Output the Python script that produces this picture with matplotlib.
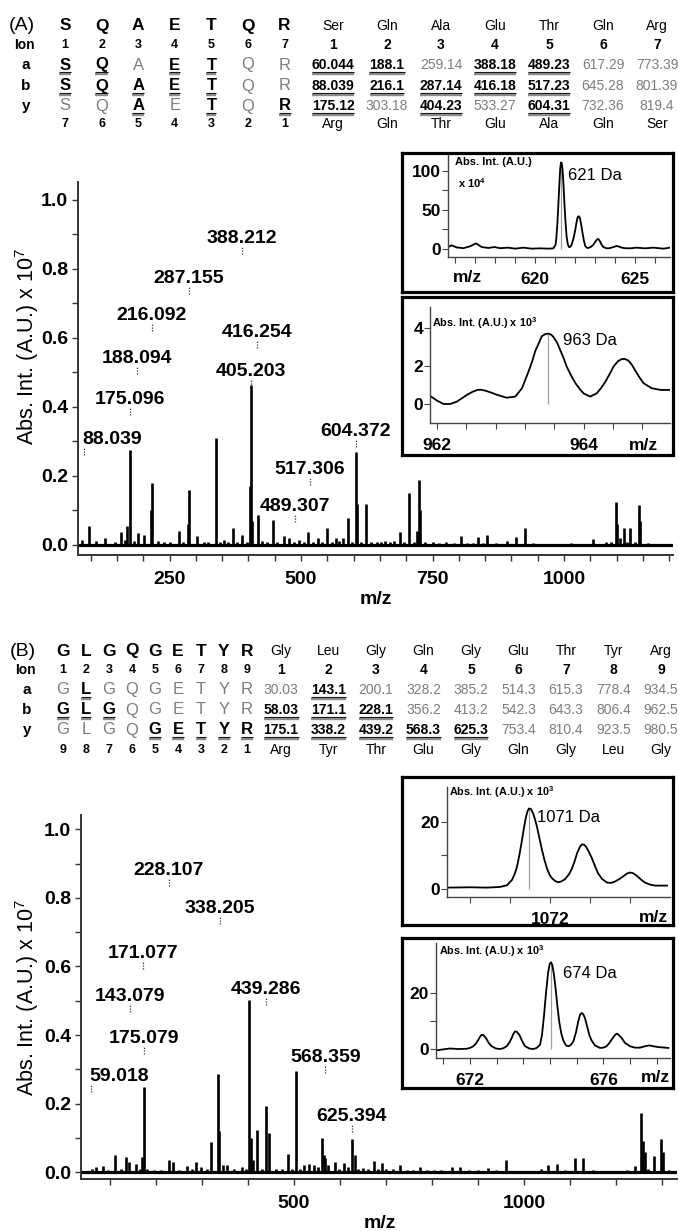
import matplotlib
matplotlib.use('Agg')
import matplotlib.pyplot as plt
from matplotlib.lines import Line2D
import numpy as np

plt.rcParams['font.family'] = ['Liberation Sans', 'DejaVu Sans']
plt.rcParams['mathtext.fontset'] = 'custom'
plt.rcParams['mathtext.rm'] = 'Liberation Sans'
plt.rcParams['mathtext.bf'] = 'Liberation Sans:bold'

# ---------------- data: fragment tables ----------------
seq_A = ['S', 'Q', 'A', 'E', 'T', 'Q', 'R']
res_A = ['Ser', 'Gln', 'Ala', 'Glu', 'Thr', 'Gln', 'Arg']
a_A = ['60.044', '188.1', '259.14', '388.18', '489.23', '617.29', '773.39']
b_A = ['88.039', '216.1', '287.14', '416.18', '517.23', '645.28', '801.39']
y_A = ['175.12', '303.18', '404.23', '533.27', '604.31', '732.36', '819.4']
a_A_found = [1, 1, 0, 1, 1, 0, 0]
b_A_found = [1, 1, 1, 1, 1, 0, 0]
y_A_found = [1, 0, 1, 0, 1, 0, 0]

seq_B = ['G', 'L', 'G', 'Q', 'G', 'E', 'T', 'Y', 'R']
res_B = ['Gly', 'Leu', 'Gly', 'Gln', 'Gly', 'Glu', 'Thr', 'Tyr', 'Arg']
a_B = ['30.03', '143.1', '200.1', '328.2', '385.2', '514.3', '615.3', '778.4', '934.5']
b_B = ['58.03', '171.1', '228.1', '356.2', '413.2', '542.3', '643.3', '806.4', '962.5']
y_B = ['175.1', '338.2', '439.2', '568.3', '625.3', '753.4', '810.4', '923.5', '980.5']
a_B_found = [0, 1, 0, 0, 0, 0, 0, 0, 0]
b_B_found = [1, 1, 1, 0, 0, 0, 0, 0, 0]
y_B_found = [1, 1, 1, 1, 1, 0, 0, 0, 0]

# ---------------- data: spectrum A ----------------
A_mz = [71, 84, 96, 110, 128, 146, 158, 166, 169, 175.1, 182, 190, 201, 214, 216.1, 228, 240, 251,
        268, 276, 285, 287.2, 302, 315, 323, 338.1, 345, 353, 362, 370.5, 378, 387, 398, 403, 405.2,
        407, 417.5, 425, 435, 446, 455, 467, 477, 487, 496, 505, 514, 523, 532, 540, 549, 558, 565.6,
        572, 580, 588.6, 596, 604.4, 606, 614, 623, 632, 644, 652, 660, 670, 677, 689, 696, 705.2,
        714, 720, 724.4, 726, 735, 751, 763, 775, 790, 804, 816, 826, 837, 846, 854, 870, 891, 908,
        926, 940, 960, 985, 1014, 1035, 1055, 1080, 1090, 1098, 1101, 1106, 1113, 1120, 1125, 1134,
        1142, 1145, 1160, 1180]
A_int = [0.012, 0.015, 0.055, 0.012, 0.02, 0.01, 0.038, 0.015, 0.055, 0.275, 0.012, 0.035, 0.03,
         0.10, 0.18, 0.012, 0.008, 0.01, 0.04, 0.008, 0.06, 0.16, 0.025, 0.01, 0.01, 0.31, 0.008,
         0.015, 0.01, 0.048, 0.008, 0.03, 0.01, 0.17, 0.464, 0.07, 0.087, 0.012, 0.008, 0.072,
         0.008, 0.025, 0.02, 0.01, 0.015, 0.01, 0.038, 0.01, 0.02, 0.008, 0.048, 0.01, 0.02, 0.012,
         0.02, 0.077, 0.01, 0.27, 0.12, 0.01, 0.119, 0.01, 0.01, 0.008, 0.012, 0.008, 0.012, 0.038,
         0.008, 0.15, 0.01, 0.04, 0.188, 0.10, 0.008, 0.008, 0.006, 0.01, 0.005, 0.026, 0.005, 0.005,
         0.024, 0.006, 0.03, 0.005, 0.012, 0.024, 0.05, 0.005, 0.004, 0.004, 0.005, 0.004, 0.016,
         0.01, 0.008, 0.125, 0.06, 0.02, 0.05, 0.01, 0.05, 0.008, 0.115, 0.07, 0.005, 0.004]
A_lab_mz = [88.039, 175.096, 188.094, 216.092, 287.155, 388.212, 416.254, 405.203, 604.372,
            517.306, 489.307]
A_lab_top = [0.281, 0.397, 0.516, 0.641, 0.748, 0.864, 0.591, 0.478, 0.304, 0.194, 0.087]
A_lab_txt = ['88.039', '175.096', '188.094', '216.092', '287.155', '388.212', '416.254', '405.203',
             '604.372', '517.306', '489.307']

# ---------------- data: spectrum B ----------------
B_mz = [60, 69.6, 84, 95, 111, 125, 135, 141, 156.5, 165, 169, 174.5, 180, 195, 210, 229, 236, 250,
        267, 278, 287, 298, 310, 319.6, 335, 337, 345, 353.6, 370, 387, 395, 402, 406, 411, 420, 430,
        439, 446.4, 460, 475, 487, 495, 503.6, 513, 522, 533, 543, 552, 561.6, 565, 567, 575, 589,
        598, 608, 617, 625.4, 632.6, 640, 650, 660, 674, 682, 690.6, 700, 715, 730, 745, 760, 775,
        790, 805, 820, 843, 861, 880, 900, 922, 940, 962, 985, 1010, 1037, 1052, 1072, 1090, 1111,
        1128, 1150, 1175, 1200, 1225, 1241, 1254, 1258, 1263, 1270, 1283, 1299, 1302, 1315]
B_int = [0.008, 0.015, 0.017, 0.006, 0.049, 0.008, 0.044, 0.03, 0.025, 0.01, 0.044, 0.247, 0.01,
         0.006, 0.006, 0.034, 0.03, 0.006, 0.017, 0.008, 0.03, 0.015, 0.008, 0.088, 0.287, 0.12,
         0.02, 0.022, 0.008, 0.015, 0.01, 0.501, 0.1, 0.034, 0.122, 0.01, 0.192, 0.114, 0.008, 0.01,
         0.052, 0.01, 0.294, 0.01, 0.02, 0.024, 0.02, 0.015, 0.1, 0.05, 0.04, 0.02, 0.03, 0.01,
         0.026, 0.015, 0.096, 0.05, 0.01, 0.012, 0.008, 0.033, 0.01, 0.028, 0.008, 0.01, 0.02, 0.006,
         0.005, 0.015, 0.005, 0.006, 0.006, 0.015, 0.015, 0.005, 0.005, 0.012, 0.005, 0.034, 0.004,
         0.004, 0.01, 0.02, 0.025, 0.006, 0.04, 0.042, 0.005, 0.004, 0.004, 0.005, 0.018, 0.173,
         0.09, 0.06, 0.01, 0.047, 0.097, 0.06, 0.005]
B_lab_mz = [228.107, 338.205, 171.077, 143.079, 175.079, 59.018, 439.286, 568.359, 625.394]
B_lab_top = [0.855, 0.745, 0.613, 0.488, 0.365, 0.254, 0.508, 0.31, 0.137]
B_lab_txt = ['228.107', '338.205', '171.077', '143.079', '175.079', '59.018', '439.286',
             '568.359', '625.394']

# ---------------- data: insets ----------------
i1_mz = [615.67, 615.83, 616.08, 616.42, 616.75, 617.05, 617.33, 617.67, 617.97, 618.25, 618.67,
         619.0, 619.42, 619.83, 620.25, 620.67, 620.92, 621.03, 621.07, 621.12, 621.17, 621.22,
         621.26, 621.3, 621.34, 621.38, 621.43, 621.48, 621.53, 621.58, 621.64, 621.7, 621.77,
         621.83, 621.92, 622.0, 622.07, 622.13, 622.19, 622.25, 622.31, 622.38, 622.45, 622.52,
         622.6, 622.67, 622.8, 622.92, 623.02, 623.12, 623.18, 623.25, 623.33, 623.42, 623.55,
         623.67, 623.8, 623.92, 624.08, 624.2, 624.33, 624.5, 624.75, 625.08, 625.5, 625.92,
         626.42, 626.75]
i1_int = [2.5, 4.7, 2.0, 1.0, 3.4, 7.2, 2.5, 1.3, 2.5, 1.0, 1.7, 0.4, 1.7, 0.4, 0.8, 0.4, 0.8, 5.5,
          15, 33, 58, 84, 103, 111, 110, 101, 80, 54, 33, 16, 6, 2.5, 2.8, 5.5, 13, 22.5, 33, 40.7,
          42, 39.4, 31, 20, 10, 3.4, 1.5, 1.3, 2.8, 5.5, 9.5, 12.7, 12.5, 9.7, 5.5, 2.5, 1.0, 0.8,
          1.5, 2.5, 3.8, 3.0, 1.7, 1.0, 0.8, 1.7, 0.8, 1.7, 0.4, 1.7]
i1_peak = (621.3, 111)

i2_mz = [961.92, 962.0, 962.09, 962.18, 962.27, 962.34, 962.41, 962.48, 962.55, 962.6, 962.66,
         962.74, 962.82, 962.95, 963.07, 963.16, 963.25, 963.3, 963.34, 963.39, 963.43, 963.48,
         963.52, 963.56, 963.59, 963.64, 963.68, 963.73, 963.77, 963.83, 963.89, 963.95, 964.0,
         964.09, 964.18, 964.24, 964.3, 964.36, 964.41, 964.47, 964.52, 964.56, 964.61, 964.66,
         964.7, 964.76, 964.82, 964.93, 965.05, 965.18]
i2_int = [0.39, 0.18, 0.0, 0.0, 0.12, 0.3, 0.48, 0.63, 0.74, 0.75, 0.7, 0.6, 0.48, 0.33, 0.39,
          0.83, 1.71, 2.25, 2.77, 3.2, 3.56, 3.68, 3.7, 3.64, 3.52, 3.22, 2.85, 2.4, 1.97, 1.5,
          1.09, 0.78, 0.56, 0.39, 0.56, 0.84, 1.18, 1.6, 1.97, 2.25, 2.36, 2.37, 2.29, 2.06, 1.8,
          1.42, 1.09, 0.83, 0.74, 0.74]
i2_peak = (963.52, 3.7)

i3_mz = [1070.98, 1071.2, 1071.37, 1071.5, 1071.57, 1071.62, 1071.645, 1071.67, 1071.695, 1071.72,
         1071.74, 1071.76, 1071.775, 1071.79, 1071.81, 1071.83, 1071.85, 1071.87, 1071.895,
         1071.92, 1071.945, 1071.97, 1072.0, 1072.02, 1072.05, 1072.08, 1072.11, 1072.15, 1072.19,
         1072.22, 1072.25, 1072.27, 1072.3, 1072.32, 1072.34, 1072.36, 1072.39, 1072.42, 1072.45,
         1072.48, 1072.52, 1072.57, 1072.61, 1072.65, 1072.69, 1072.73, 1072.77, 1072.8, 1072.83,
         1072.87, 1072.91, 1072.95, 1073.0, 1073.05, 1073.17]
i3_int = [0.4, 0.5, 0.4, 0.6, 1.1, 2.7, 4.3, 6.6, 10.3, 14.6, 18.3, 21.5, 23.2, 24.0, 23.8, 22.6,
          20.8, 18.5, 15.0, 11.6, 8.6, 6.1, 4.0, 3.2, 2.4, 2.0, 2.2, 2.9, 4.4, 6.1, 8.6, 10.6, 12.6,
          13.3, 13.2, 12.6, 11.0, 9.1, 6.8, 4.7, 3.0, 1.9, 1.8, 2.2, 2.9, 3.7, 4.6, 4.9, 4.7, 3.9,
          2.8, 1.9, 1.3, 1.0, 1.0]
i3_peak = (1071.79, 24.0)

i4_mz = [670.97, 671.15, 671.4, 671.65, 671.9, 672.0, 672.1, 672.18, 672.25, 672.3, 672.35, 672.4,
         672.48, 672.56, 672.65, 672.78, 672.9, 673.0, 673.1, 673.18, 673.25, 673.3, 673.35, 673.4,
         673.48, 673.56, 673.65, 673.78, 673.9, 674.0, 674.1, 674.16, 674.22, 674.28, 674.34,
         674.39, 674.43, 674.47, 674.52, 674.57, 674.62, 674.68, 674.74, 674.8, 674.88, 674.95,
         675.02, 675.1, 675.18, 675.25, 675.3, 675.35, 675.4, 675.45, 675.52, 675.58, 675.65,
         675.75, 675.9, 676.0, 676.1, 676.2, 676.28, 676.35, 676.4, 676.45, 676.55, 676.65, 676.8,
         676.95, 677.1, 677.25, 677.38, 677.5, 677.65, 677.95]
i4_int = [-0.5, -0.2, 0.2, 0.0, 0.1, 0.4, 1.0, 2.0, 3.3, 4.4, 5.1, 5.0, 3.9, 2.2, 1.0, 0.2, 0.0,
          0.3, 1.0, 2.3, 3.9, 5.4, 6.3, 6.2, 5.1, 3.0, 1.0, 0.2, 0.0, 0.4, 1.5, 5.0, 12.0, 20.0,
          27.0, 30.4, 31.0, 30.0, 26.5, 21.5, 15.5, 9.5, 5.5, 3.0, 1.3, 1.0, 1.4, 2.7, 6.0, 10.0,
          12.2, 12.9, 12.4, 11.0, 7.8, 5.0, 3.0, 1.3, 0.4, 0.5, 1.0, 2.5, 3.9, 5.0, 5.5, 5.2, 3.9,
          2.2, 1.0, 0.5, 0.5, 1.0, 1.3, 1.0, 0.7, 0.4]
i4_peak = (674.43, 31.0)

# ---------------- figure helpers ----------------
W, H = 679, 1231
fig = plt.figure(figsize=(W / 100, H / 100), dpi=100)
GRAY = '#7d7d7d'


def add_ax(l, t, r, b, **kw):
    return fig.add_axes([l / W, 1 - b / H, (r - l) / W, (b - t) / H], **kw)


def ftext(px, py, s, **kw):
    return fig.text(px / W, 1 - py / H, s, **kw)


underlines = []


def table(tag, rows, lab_x, lx, vx, seq, res, av, bv, yv, af, bf, yf):
    hy, iy, ay, by, yy, bty = rows
    n = len(seq)
    ftext(lab_x - 2, hy, tag, fontsize=14, ha='center', va='center')
    ftext(lab_x, iy, 'Ion', fontsize=10, fontweight='bold', ha='center', va='center')
    for lbl, ry in (('a', ay), ('b', by), ('y', yy)):
        ftext(lab_x + 2, ry, lbl, fontsize=11, fontweight='bold', ha='center', va='center')
    for j in range(n):
        ftext(lx[j], hy, seq[j], fontsize=12.5, fontweight='bold', ha='center', va='center')
        ftext(lx[j], iy, str(j + 1), fontsize=9, fontweight='bold', ha='center', va='center')
        ftext(lx[j], bty, str(n - j), fontsize=9, fontweight='bold', ha='center', va='center')
        ftext(vx[j], hy, res[j], fontsize=10, ha='center', va='center')
        ftext(vx[j], iy, str(j + 1), fontsize=10, fontweight='bold', ha='center', va='center')
        ftext(vx[j], bty, res[n - 1 - j], fontsize=10, ha='center', va='center')
    for ry, vals, found, rev in ((ay, av, af, False), (by, bv, bf, False), (yy, yv, yf, True)):
        for j in range(n):
            lf = found[n - 1 - j] if rev else found[j]
            t = ftext(lx[j], ry, seq[j], fontsize=12, ha='center', va='center',
                      fontweight='bold' if lf else 'normal', color='k' if lf else GRAY)
            if lf:
                underlines.append((t, ry))
            t = ftext(vx[j], ry, vals[j], fontsize=10, ha='center', va='center',
                      fontweight='bold' if found[j] else 'normal', color='k' if found[j] else GRAY)
            if found[j]:
                underlines.append((t, ry))


table('(A)', (26, 45, 65, 86, 106, 124), 24,
      [65 + 36.6 * j for j in range(7)], [333 + 54 * j for j in range(7)],
      seq_A, res_A, a_A, b_A, y_A, a_A_found, b_A_found, y_A_found)
table('(B)', (651, 670, 690, 710, 730, 750), 25,
      [63 + 23 * j for j in range(9)], [281 + 47.5 * j for j in range(9)],
      seq_B, res_B, a_B, b_B, y_B, a_B_found, b_B_found, y_B_found)


# ---------------- main spectra ----------------
def main_axes(ax, mz, inten, xlim, ylim, xt, xlabs, lab_mz, lab_top, lab_txt, left_labels):
    ax.set_facecolor('none')
    ax.vlines(mz, 0, inten, color='k', lw=1.9)
    ax.axhline(0, color='k', lw=2.3)
    ax.set_xlim(*xlim)
    ax.set_ylim(*ylim)
    for s in ('top', 'right'):
        ax.spines[s].set_visible(False)
    for s in ('left', 'bottom'):
        ax.spines[s].set_linewidth(1.4)
        ax.spines[s].set_color('#333333')
    ax.set_xticks(xt)
    ax.set_xticklabels([str(int(v)) if int(v) in xlabs else '' for v in xt],
                       fontsize=14, fontweight='bold')
    yt = [0.0, 0.2, 0.4, 0.6, 0.8, 1.0]
    ax.set_yticks(yt)
    ax.set_yticklabels(['%.1f' % v for v in yt], fontsize=14, fontweight='bold')
    ax.set_yticks([0.1, 0.3, 0.5, 0.7, 0.9], minor=True)
    ax.tick_params(axis='x', direction='out', length=4.5, width=1.0, pad=7, color='#333333')
    ax.tick_params(axis='y', which='both', direction='out', length=4, width=1.0, pad=3,
                   color='#333333')
    for m, top, txt in zip(lab_mz, lab_top, lab_txt):
        ax.vlines(m, top - 0.021, top, color='#333333', lw=0.9, linestyles=(0, (1, 1.2)))
        if txt in left_labels:
            ax.text(m - 3, top + 0.012, txt, ha='left', va='baseline', fontsize=14,
                    fontweight='bold')
        else:
            ax.text(m, top + 0.012, txt, ha='center', va='baseline', fontsize=14,
                    fontweight='bold')


axA = add_ax(78, 182, 673, 555)
main_axes(axA, A_mz, A_int, (76, 1207), (-0.029, 1.052), np.arange(100, 1201, 50),
          (250, 500, 750, 1000), A_lab_mz, A_lab_top, A_lab_txt, ('88.039',))
axB = add_ax(81, 815, 677, 1179)
main_axes(axB, B_mz, B_int, (37, 1333), (-0.02, 1.042), np.arange(100, 1301, 100),
          (500, 1000), B_lab_mz, B_lab_top, B_lab_txt, ('59.018',))

ftext(27, 346, 'Abs. Int. (A.U.) x 10$^7$', rotation=90, fontsize=15.5, ha='center', va='center')
ftext(27, 997, 'Abs. Int. (A.U.) x 10$^7$', rotation=90, fontsize=15.5, ha='center', va='center')
ftext(376, 599, 'm/z', fontsize=14, fontweight='bold', ha='center', va='center')
ftext(380, 1223, 'm/z', fontsize=14, fontweight='bold', ha='center', va='center')


# ---------------- insets ----------------
def box(l, t, r, b):
    bx = add_ax(l, t, r, b)
    bx.set_xticks([])
    bx.set_yticks([])
    for s in bx.spines.values():
        s.set_linewidth(2.3)
        s.set_color('k')
    return bx


def inset(rect, mz, inten, peak, xlim, ylim, xt, xlabs, yt, ymin):
    ax = add_ax(*rect)
    ax.set_facecolor('none')
    ax.vlines(peak[0], 0, peak[1], color='#a0a0a0', lw=0.9)
    ax.plot(mz, inten, color='k', lw=1.3, solid_joinstyle='round')
    ax.set_xlim(*xlim)
    ax.set_ylim(*ylim)
    for s in ('top', 'right'):
        ax.spines[s].set_visible(False)
    for s in ('left', 'bottom'):
        ax.spines[s].set_linewidth(1.0)
        ax.spines[s].set_color('#444444')
    ax.set_xticks(xt)
    ax.set_xticklabels([('%g' % v) if any(abs(v - q) < 1e-6 for q in xlabs) else '' for v in xt],
                       fontsize=12.5, fontweight='bold')
    ax.set_yticks(yt)
    ax.set_yticklabels(['%g' % v for v in yt], fontsize=12.5, fontweight='bold')
    ax.set_yticks(ymin, minor=True)
    ax.tick_params(axis='x', direction='out', length=4, width=0.8, pad=6.5, color='#444444')
    ax.tick_params(axis='y', which='both', direction='out', length=4, width=0.8, pad=1,
                   color='#444444')
    return ax


box(402, 153, 673, 292)
inset((448, 155, 670, 257), i1_mz, i1_int, i1_peak, (615.65, 626.75), (-10.3, 120.5),
      np.arange(616, 627, 1), (620, 625), [0, 50, 100], [25, 75])
ftext(455, 162, 'Abs. Int. (A.U.)', fontsize=8, fontweight='bold', va='center')
ftext(458, 183, 'x 10$^\\mathbf{4}$', fontsize=8, fontweight='bold', va='center')
ftext(568, 175, '621 Da', fontsize=12, va='center')
ftext(467, 278, 'm/z', fontsize=12.5, fontweight='bold', ha='center', va='center')

box(402, 297, 673, 455)
inset((430, 307, 670, 423), i2_mz, i2_int, i2_peak, (961.905, 965.18), (-1.0, 5.1),
      [962 + 0.4 * k for k in range(8)], (962, 964), [0, 2, 4], [])
ftext(432, 323, 'Abs. Int. (A.U.) x 10$^\\mathbf{3}$', fontsize=7.8, fontweight='bold',
      va='center')
ftext(563, 340, '963 Da', fontsize=12, va='center')
ftext(643, 445, 'm/z', fontsize=12.5, fontweight='bold', ha='center', va='center')

box(402, 777, 673, 925)
inset((447, 787, 670, 897), i3_mz, i3_int, i3_peak, (1070.97, 1073.2), (-2.4, 30.4),
      [1071.2 + 0.4 * k for k in range(5)], (1072,), [0, 20], [10])
ftext(449, 792, 'Abs. Int. (A.U.) x 10$^\\mathbf{3}$', fontsize=7.8, fontweight='bold',
      va='center')
ftext(537, 818, '1071 Da', fontsize=12, va='center')
ftext(653, 918, 'm/z', fontsize=12.5, fontweight='bold', ha='center', va='center')

box(402, 938, 673, 1088)
inset((436, 943, 670, 1058), i4_mz, i4_int, i4_peak, (670.98, 678.0), (-3.2, 37.9),
      [671.2 + 0.8 * k for k in range(9)], (672, 676), [0, 20], [10])
ftext(439, 951, 'Abs. Int. (A.U.) x 10$^\\mathbf{3}$', fontsize=7.8, fontweight='bold',
      va='center')
ftext(563, 973, '674 Da', fontsize=12, va='center')
ftext(655, 1078, 'm/z', fontsize=12.5, fontweight='bold', ha='center', va='center')

# ---------------- underlines in tables ----------------
fig.canvas.draw()
r = fig.canvas.get_renderer()
inv = fig.transFigure.inverted()
for t, ry in underlines:
    bb = t.get_window_extent(renderer=r)
    x0 = inv.transform((bb.x0, 0))[0]
    x1 = inv.transform((bb.x1, 0))[0]
    fig.add_artist(Line2D([x0, x1], [1 - (ry + 6.5) / H] * 2, color='k', lw=0.8,
                          solid_capstyle='butt'))
    fig.add_artist(Line2D([x0, x1], [1 - (ry + 8.8) / H] * 2, color='#8a8a8a', lw=1.7,
                          solid_capstyle='butt'))

fig.savefig('out.png', dpi=100)
